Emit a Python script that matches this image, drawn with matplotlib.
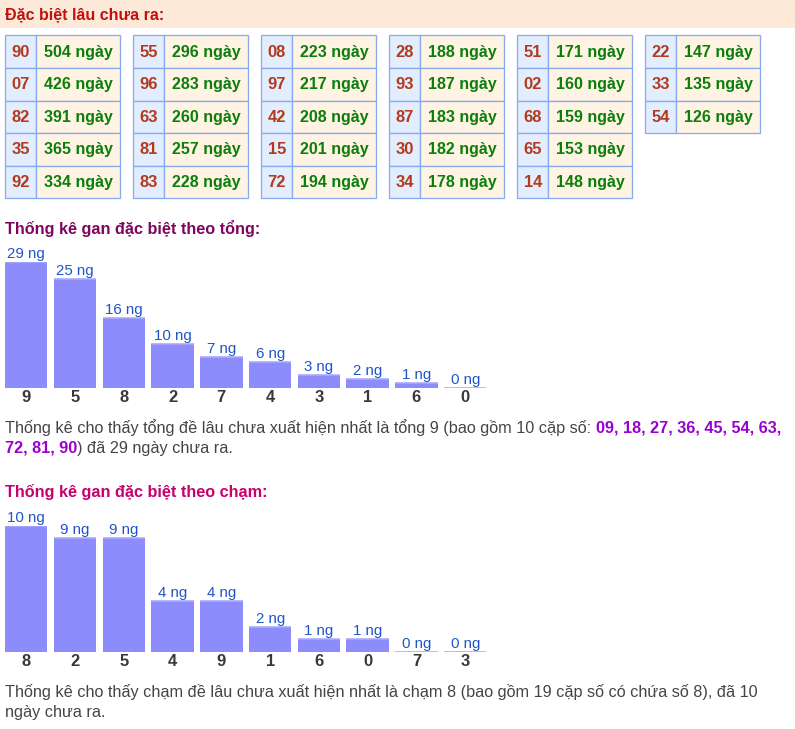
import matplotlib
matplotlib.use("Agg")
import matplotlib.pyplot as plt
from matplotlib.patches import Rectangle
from matplotlib import font_manager

# ---------------- data ----------------
title_main = "Đặc biệt lâu chưa ra:"
gan_numbers = ["90", "07", "82", "35", "92",
               "55", "96", "63", "81", "83",
               "08", "97", "42", "15", "72",
               "28", "93", "87", "30", "34",
               "51", "02", "68", "65", "14",
               "22", "33", "54"]
gan_days = [504, 426, 391, 365, 334,
            296, 283, 260, 257, 228,
            223, 217, 208, 201, 194,
            188, 187, 183, 182, 178,
            171, 160, 159, 153, 148,
            147, 135, 126]

title_sum = "Thống kê gan đặc biệt theo tổng:"
sum_labels = ["9", "5", "8", "2", "7", "4", "3", "1", "6", "0"]
sum_days = [29, 25, 16, 10, 7, 6, 3, 2, 1, 0]
sum_text_1a = "Thống kê cho thấy tổng đề lâu chưa xuất hiện nhất là tổng 9 (bao gồm 10 cặp số: "
sum_text_1b = "09, 18, 27, 36, 45, 54, 63,"
sum_text_2a = "72, 81, 90"
sum_text_2b = ") đã 29 ngày chưa ra."

title_touch = "Thống kê gan đặc biệt theo chạm:"
touch_labels = ["8", "2", "5", "4", "9", "1", "6", "0", "7", "3"]
touch_days = [10, 9, 9, 4, 4, 2, 1, 1, 0, 0]
touch_text_1 = "Thống kê cho thấy chạm đề lâu chưa xuất hiện nhất là chạm 8 (bao gồm 19 cặp số có chứa số 8), đã 10"
touch_text_2 = "ngày chưa ra."

# ---------------- style ----------------
W, H = 795, 729
names = {f.name for f in font_manager.fontManager.ttflist}
MAIN = "Liberation Sans" if "Liberation Sans" in names else "DejaVu Sans"
PX = 72.0 / 100.0  # points per pixel

fig = plt.figure(figsize=(W / 100, H / 100), dpi=100)
canvas = fig.add_axes([0, 0, 1, 1])
canvas.set_xlim(0, W)
canvas.set_ylim(H, 0)
canvas.axis("off")
renderer = fig.canvas.get_renderer()

# header band
canvas.add_patch(Rectangle((0, 0), W, 28, facecolor="#fce9d8", edgecolor="none"))
canvas.text(5, 14.5, title_main, fontsize=16 * PX, fontweight="bold",
            color="#c01010", va="center", ha="left", family=MAIN)

# ---------------- table ----------------
rows_per_block = 5
block_pitch = 128
num_w, val_w = 31, 84
row_h = 32.6
top0 = 35.3
left0 = 5.3
border = "#8aaaf0"
for k, (num, d) in enumerate(zip(gan_numbers, gan_days)):
    b, r = divmod(k, rows_per_block)
    x0 = left0 + b * block_pitch
    y0 = top0 + r * row_h
    canvas.add_patch(Rectangle((x0, y0), num_w, row_h, facecolor="#e2eefd",
                               edgecolor=border, lw=1.3 * PX))
    canvas.add_patch(Rectangle((x0 + num_w, y0), val_w, row_h, facecolor="#fff4e4",
                               edgecolor=border, lw=1.3 * PX))
    canvas.text(x0 + num_w / 2, y0 + row_h / 2 + 0.5, num, fontsize=16.5 * PX,
                fontweight="bold", color="#b33a1c", ha="center", va="center", family=MAIN)
    canvas.text(x0 + num_w + val_w / 2, y0 + row_h / 2 + 0.5, f"{d} ngày",
                fontsize=16 * PX, fontweight="bold", color="#0b7e0b",
                ha="center", va="center", family=MAIN)

# ---------------- bar charts ----------------
pitch = 48.78
bar_w = 0.87


def bar_chart(labels, values, baseline_px, top_px):
    left_px = 26.25 - pitch / 2
    ax = fig.add_axes([left_px / W, (H - baseline_px) / H,
                       pitch * len(values) / W, (baseline_px - top_px) / H])
    ax.set_xlim(-0.5, len(values) - 0.5)
    ax.set_ylim(0, max(values))
    ax.axis("off")
    xs = list(range(len(values)))
    ax.bar(xs, values, width=bar_w, color="#8c8cfd", edgecolor="none")
    ax.hlines(values, [x - bar_w / 2 for x in xs], [x + bar_w / 2 for x in xs],
              color="#a9a9fb", lw=1.6 * PX)
    for x, v, lab in zip(xs, values, labels):
        ax.annotate(f"{v} ng", (x, v), xytext=(0, 4 * PX), textcoords="offset points",
                    ha="center", va="baseline", fontsize=15 * PX, color="#1f55c8",
                    family=MAIN, annotation_clip=False)
        ax.annotate(lab, (x, 0), xytext=(0, -10 * PX), textcoords="offset points",
                    ha="center", va="center", fontsize=16.5 * PX, fontweight="bold",
                    color="#383838", family=MAIN, annotation_clip=False)
    return ax


def fit(t, target_w):
    w = t.get_window_extent(renderer).width
    t.set_fontsize(t.get_fontsize() * target_w / w)


def runs(x, y, parts, size):
    """parts: list of (text, color, weight)"""
    for s, c, wgt in parts:
        t = canvas.text(x, y, s, fontsize=size, color=c, fontweight=wgt,
                        ha="left", va="center", family=MAIN)
        x = t.get_window_extent(renderer).x1
    return x


# section: tổng
canvas.text(5, 228, title_sum, fontsize=16.2 * PX, fontweight="bold",
            color="#80055f", va="center", ha="left", family=MAIN)
bar_chart(sum_labels, sum_days, 387.7, 261.7)

probe = canvas.text(5, 428, sum_text_1a, fontsize=15 * PX, family=MAIN, va="center")
fit(probe, 595 - 5)
psize = probe.get_fontsize()
probe.remove()
GRAY = "#454545"
PURPLE = "#9a00cf"
runs(5, 428, [(sum_text_1a, GRAY, "normal"), (sum_text_1b, PURPLE, "bold")], psize)
runs(5, 448, [(sum_text_2a, PURPLE, "bold"), (sum_text_2b, GRAY, "normal")], psize)

# section: chạm
canvas.text(5, 492, title_touch, fontsize=16.2 * PX, fontweight="bold",
            color="#c8006e", va="center", ha="left", family=MAIN)
bar_chart(touch_labels, touch_days, 651.7, 525.7)
runs(5, 692, [(touch_text_1, GRAY, "normal")], psize)
runs(5, 713, [(touch_text_2, GRAY, "normal")], psize)

fig.savefig("out.png", dpi=100)
